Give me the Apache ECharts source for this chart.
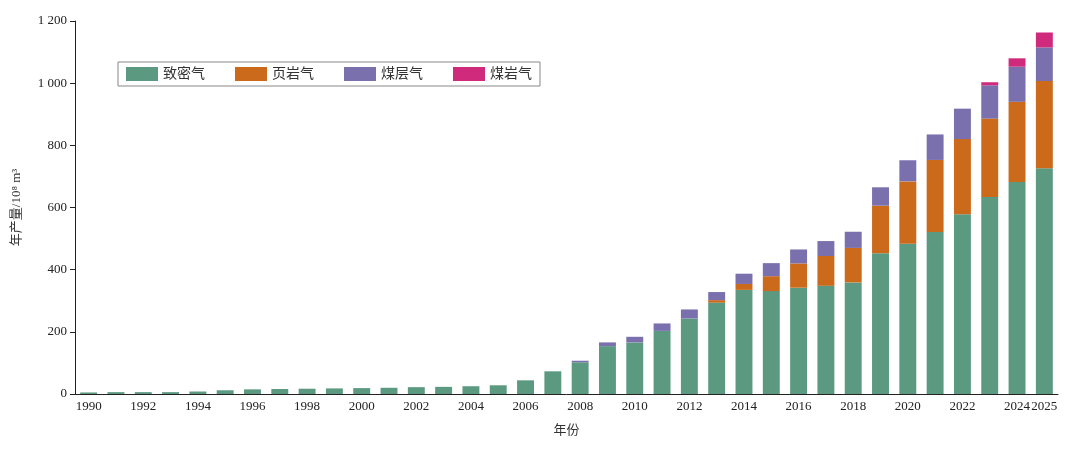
<!DOCTYPE html>
<html>
<head>
<meta charset="utf-8">
<script src="https://cdn.jsdelivr.net/npm/echarts@6/dist/echarts.min.js"></script>
<style>html,body{margin:0;padding:0;background:#fff}#chart{width:1078px;height:458px}</style>
</head>
<body>
<div id="chart"></div>
<script>
const years = [];
for (let y = 1990; y <= 2025; y++) years.push(String(y));

const tightGas = [5, 6, 6, 6, 8, 12, 15, 16, 17, 18, 19, 20, 22, 23, 25, 28, 44, 73, 102, 154, 166, 203, 243, 294, 335, 331, 342, 348, 359, 453, 483, 521, 578, 634, 682, 726];
const shaleGas = [0, 0, 0, 0, 0, 0, 0, 0, 0, 0, 0, 0, 0, 0, 0, 0, 0, 0, 0, 0, 0, 0, 0, 8, 19, 48, 78, 96, 111, 153, 201, 232, 242, 252, 258, 281];
const cbmGas = [0, 0, 0, 0, 0, 0, 0, 0, 0, 0, 0, 0, 0, 0, 0, 0, 0, 0, 5, 12, 18, 24, 29, 26, 33, 42, 45, 48, 52, 59, 68, 82, 98, 107, 113, 108];
const coalRockGas = [0, 0, 0, 0, 0, 0, 0, 0, 0, 0, 0, 0, 0, 0, 0, 0, 0, 0, 0, 0, 0, 0, 0, 0, 0, 0, 0, 0, 0, 0, 0, 0, 0, 10, 27, 48];

const seriesNames = ["致密气", "页岩气", "煤层气", "煤岩气"];
const colors = ["#5b9a81", "#cc6a1c", "#7a70ad", "#cf2a7b"];

const chart = echarts.init(document.getElementById("chart"));
const font = "'Liberation Serif', 'Noto Sans CJK SC', serif";
const showLabel = (i) => i % 2 === 0 || i === years.length - 1;

chart.setOption({
  animation: false,
  textStyle: { fontFamily: font },
  color: colors,
  legend: {
    left: 118, top: 62,
    itemWidth: 32, itemHeight: 14, itemGap: 30,
    borderColor: "#888", borderWidth: 1, padding: [5, 8],
    textStyle: { fontSize: 14, color: "#333", fontFamily: font },
    icon: "rect",
    data: seriesNames
  },
  grid: { left: 75, right: 20, top: 21, bottom: 64 },
  xAxis: {
    type: "category",
    data: years,
    name: "年份",
    nameLocation: "middle",
    nameGap: 30,
    nameTextStyle: { fontSize: 13, color: "#333" },
    axisLine: { lineStyle: { color: "#222" } },
    axisTick: { alignWithLabel: true, interval: showLabel, lineStyle: { color: "#222" }, inside: true },
    axisLabel: { interval: showLabel, fontSize: 13, color: "#222", margin: 6 }
  },
  yAxis: {
    type: "value",
    min: 0, max: 1200, interval: 200,
    name: "年产量/10⁸ m³",
    nameLocation: "middle",
    nameGap: 52,
    nameTextStyle: { fontSize: 13, color: "#333" },
    splitLine: { show: false },
    axisLine: { show: true, lineStyle: { color: "#222" } },
    axisTick: { show: true, lineStyle: { color: "#222" } },
    axisLabel: {
      fontSize: 13, color: "#222",
      formatter: (v) => v >= 1000 ? "1 " + String(v).slice(1) : String(v)
    }
  },
  series: [tightGas, shaleGas, cbmGas, coalRockGas].map((d, i) => ({
    name: seriesNames[i],
    type: "bar",
    stack: "total",
    barWidth: "62%",
    data: d
  }))
});
</script>
</body>
</html>
